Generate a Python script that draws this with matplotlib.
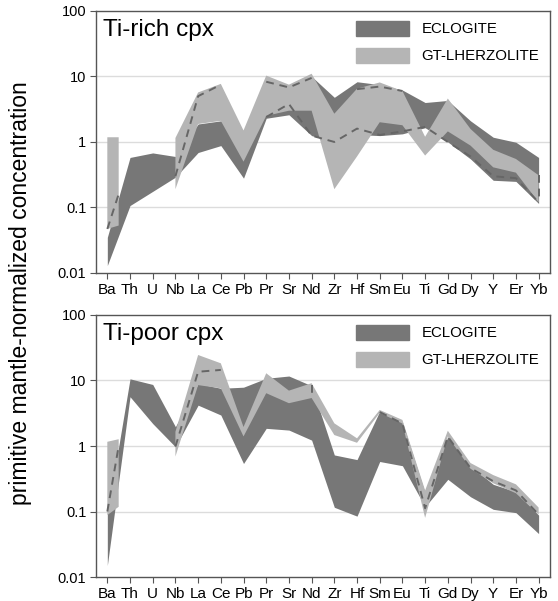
import numpy as np
import matplotlib.pyplot as plt
from matplotlib.patches import Patch

plt.rcParams['font.family'] = ['Liberation Sans', 'DejaVu Sans']

nan = np.nan

# elements on the x axis
elements = ['Ba', 'Th', 'U', 'Nb', 'La', 'Ce', 'Pb', 'Pr', 'Sr', 'Nd',
            'Zr', 'Hf', 'Sm', 'Eu', 'Ti', 'Gd', 'Dy', 'Y', 'Er', 'Yb']

# gt-lherzolite has an extra Ba point half a step right and no Th, U
lhz_names = ['Ba', 'Ba2', 'Th', 'U', 'Nb', 'La', 'Ce', 'Pb', 'Pr', 'Sr', 'Nd',
             'Zr', 'Hf', 'Sm', 'Eu', 'Ti', 'Gd', 'Dy', 'Y', 'Er', 'Yb']

# --- Ti-rich cpx ---
rich_ecl_hi = [0.035, 0.58, 0.68, 0.60, 1.88, 2.1, 1.2, 6.0, 7.0, 10.0,
               4.8, 8.3, 7.5, 6.2, 4.0, 4.3, 2.1, 1.18, 0.99, 0.58]
rich_ecl_lo = [0.013, 0.107, 0.176, 0.29, 0.69, 0.88, 0.28, 2.3, 2.6, 1.25,
               1.0, 1.3, 1.25, 1.33, 1.65, 1.0, 0.55, 0.26, 0.25, 0.115]
rich_lhz_hi = [1.18, 1.18, nan, nan, 1.15, 5.7, 7.7, 1.5, 10.3, 7.5, 11.0,
               2.7, 6.5, 8.1, 6.0, 1.2, 4.6, 1.58, 0.76, 0.55, 0.31]
rich_lhz_lo = [0.047, 0.053, nan, nan, 0.19, 1.88, 2.1, 0.5, 2.5, 3.0, 3.0,
               0.19, 0.6, 2.0, 1.8, 0.62, 1.45, 0.88, 0.41, 0.34, 0.12]
rich_dash_a = [0.047, 0.16, nan, nan, 0.3, 5.0, 7.5, nan, 8.3, 6.8, 9.5,
               nan, 6.4, 7.0, 6.0, nan, nan, nan, nan, nan, nan]
rich_dash_b = [nan, nan, nan, nan, nan, nan, nan, nan, 2.4, 3.8, 1.25,
               1.0, 1.6, 1.28, 1.45, 1.7, 1.0, 0.6, 0.3, 0.28, 0.12]
rich_dash_end = [0.31, 0.13]   # drop at Yb

# --- Ti-poor cpx ---
poor_ecl_hi = [0.09, 10.6, 8.7, 1.97, 9.0, 7.6, 7.9, 10.8, 11.7, 8.3,
               0.73, 0.62, 3.4, 2.3, 0.19, 1.39, 0.5, 0.26, 0.2, 0.088]
poor_ecl_lo = [0.015, 5.65, 2.2, 0.97, 4.2, 2.97, 0.54, 1.86, 1.75, 1.23,
               0.116, 0.085, 0.58, 0.5, 0.118, 0.31, 0.168, 0.108, 0.096, 0.046]
poor_lhz_hi = [1.16, 1.27, nan, nan, 1.65, 24.5, 18.3, 1.95, 12.9, 7.0, 9.1,
               2.22, 1.31, 3.55, 2.5, 0.21, 1.71, 0.55, 0.36, 0.26, 0.115]
poor_lhz_lo = [0.088, 0.118, nan, nan, 0.69, 8.5, 7.6, 1.4, 6.4, 4.5, 5.4,
               1.47, 1.12, 3.2, 2.2, 0.08, 1.4, 0.45, 0.27, 0.19, 0.09]
poor_dash = [0.1, 1.0, nan, nan, 0.98, 13.6, 14.5, nan, nan, nan, nan,
             nan, nan, 3.3, 2.2, 0.112, 1.39, 0.46, 0.29, 0.21, 0.09]
poor_dash_nd = [8.5, 5.5]      # drop at Nd

dark = '#777777'
light = '#b5b5b5'
x = np.arange(len(elements))
x_lhz = np.array([0, 0.5] + list(range(1, len(elements))), dtype=float)


def panel(ax, title, ecl_hi, ecl_lo, lhz_hi, lhz_lo, dashes, drop_at, drop):
    ax.fill_between(x, ecl_lo, ecl_hi, color=dark, lw=0, zorder=2)
    ax.fill_between(x_lhz, lhz_lo, lhz_hi, color=light, lw=0, zorder=3)
    for d in dashes:
        ax.plot(x_lhz, d, color='#666666', ls=(0, (4, 3)), lw=1.4, zorder=4)
    i = elements.index(drop_at)
    ax.plot([i, i], drop, color='#666666', ls=(0, (4, 3)), lw=1.4, zorder=4)

    ax.set_yscale('log')
    ax.set_ylim(0.01, 100)
    ax.set_xlim(-0.5, len(elements) - 0.5)
    ax.set_yticks([0.01, 0.1, 1, 10, 100])
    ax.set_yticklabels(['0.01', '0.1', '1', '10', '100'])
    ax.minorticks_off()
    ax.set_xticks(x)
    ax.set_xticklabels(elements)
    ax.tick_params(length=4, color='#555555', pad=3)
    ax.tick_params(axis='y', labelsize=10.5)
    ax.tick_params(axis='x', labelsize=11)
    for y in [0.1, 1, 10]:
        ax.axhline(y, color='#dcdcdc', lw=1, zorder=1)
    for s in ax.spines.values():
        s.set_color('#555555')
        s.set_linewidth(1)
    ax.text(0.016, 0.97, title, transform=ax.transAxes, fontsize=17.5,
            va='top', ha='left')
    handles = [Patch(color=dark), Patch(color=light)]
    ax.legend(handles, ['ECLOGITE', 'GT-LHERZOLITE'], loc='upper left',
              bbox_to_anchor=(0.56, 0.985), frameon=False, fontsize=10.8,
              handlelength=3.5, handleheight=1.15, handletextpad=0.85,
              labelspacing=0.75, borderaxespad=0)


fig = plt.figure(figsize=(5.58, 6.01), dpi=100)
ax1 = fig.add_axes([0.172, 0.5458, 0.8136, 0.436])
ax2 = fig.add_axes([0.172, 0.0399, 0.8136, 0.436])

panel(ax1, 'Ti-rich cpx', rich_ecl_hi, rich_ecl_lo, rich_lhz_hi, rich_lhz_lo,
      [rich_dash_a, rich_dash_b], 'Yb', rich_dash_end)
panel(ax2, 'Ti-poor cpx', poor_ecl_hi, poor_ecl_lo, poor_lhz_hi, poor_lhz_lo,
      [poor_dash], 'Nd', poor_dash_nd)

fig.text(0.036, 0.512, 'primitive mantle-normalized concentration',
         rotation=90, fontsize=16.5, va='center', ha='center')

fig.savefig('out.png', dpi=100)
